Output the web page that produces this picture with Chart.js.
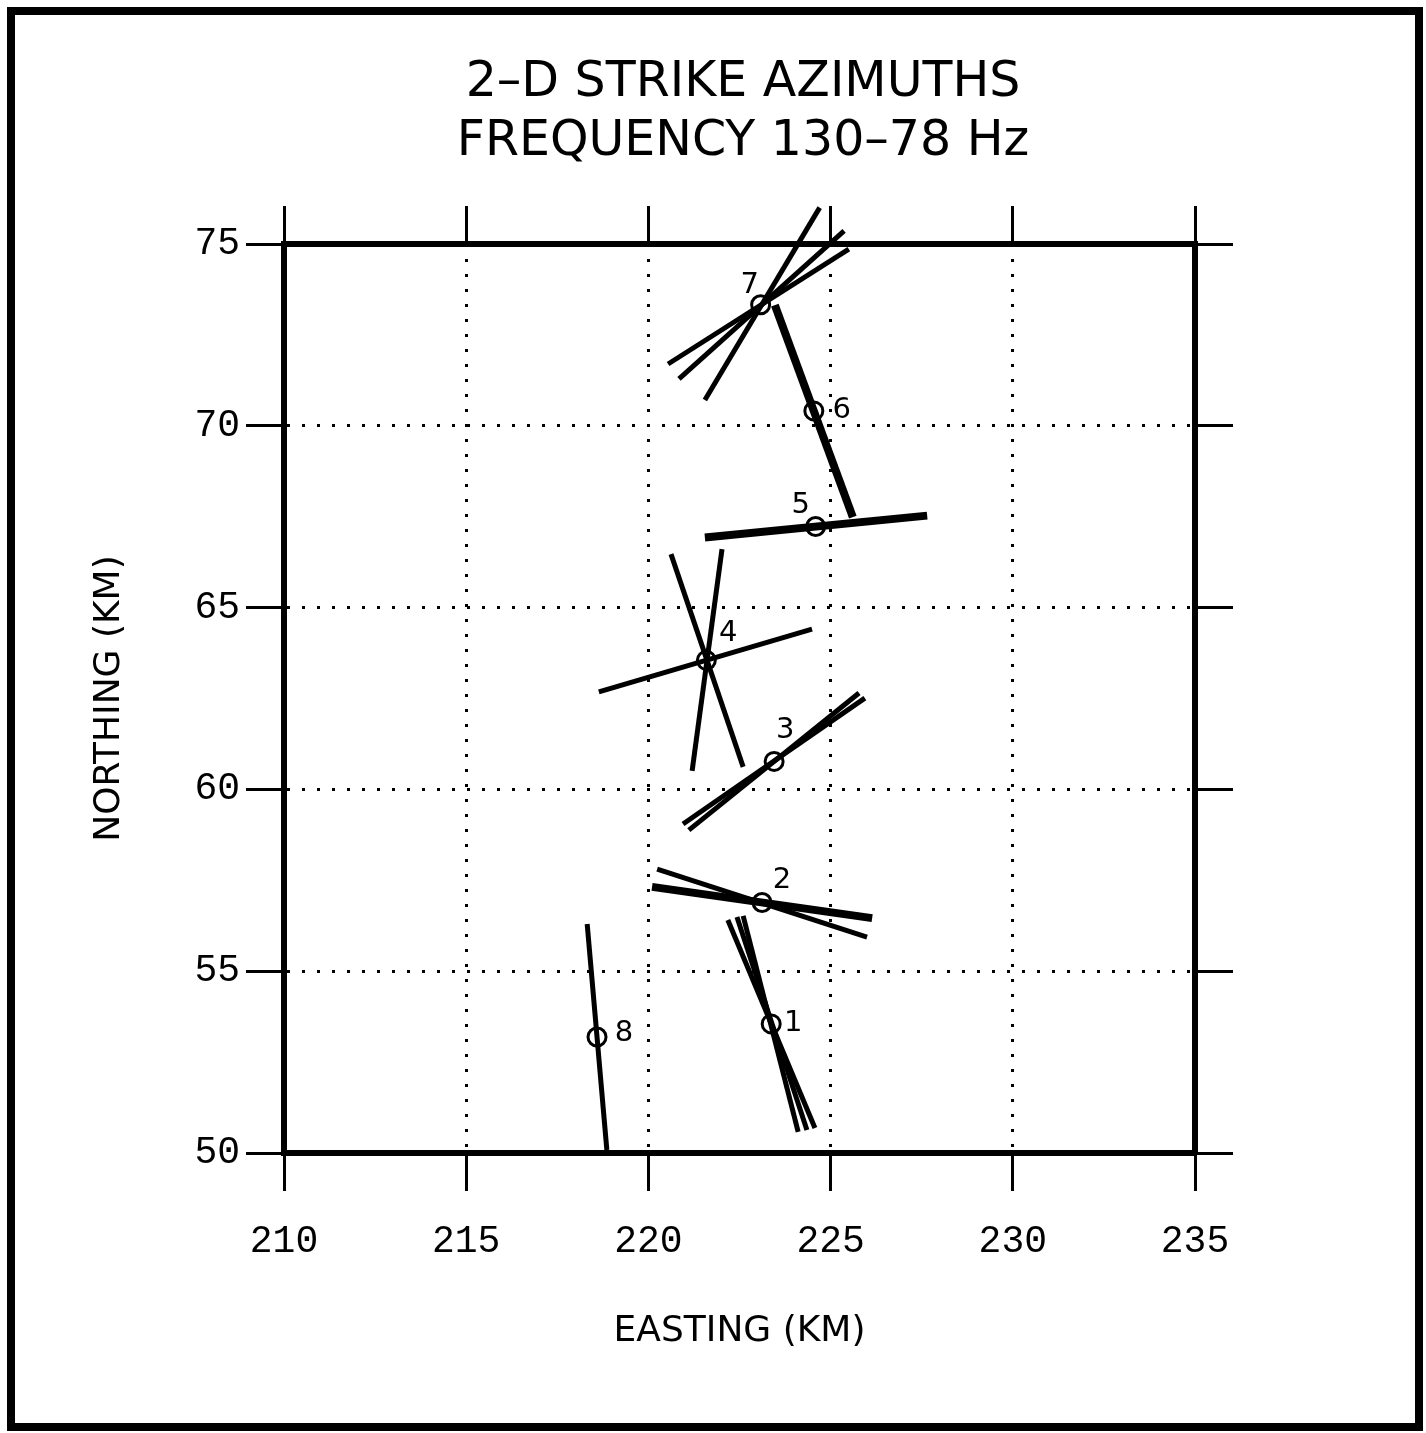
<!DOCTYPE html>
<html>
<head>
<meta charset="utf-8">
<title>2-D Strike Azimuths</title>
<script src="https://cdn.jsdelivr.net/npm/chart.js@4.4.1/dist/chart.umd.min.js"></script>
<style>
  html, body { margin: 0; padding: 0; background: #fff; }
  #wrap { width: 1426px; height: 1433px; position: relative; }
</style>
</head>
<body>
<div id="wrap"><canvas id="strikeChart"></canvas></div>
<script>
// site locations (km)
const siteNo = [1, 2, 3, 4, 5, 6, 7, 8];
const siteE = [223.37, 223.12, 223.45, 221.59, 224.59, 224.54, 223.08, 218.59];
const siteN = [53.55, 56.89, 60.77, 63.55, 67.23, 70.41, 73.33, 53.19];

// strike segments [E1, N1, E2, N2] through each site
const strikeLines = [
  [222.18, 56.41, 224.57, 50.69], // 1
  [222.43, 56.49, 224.35, 50.63],
  [222.60, 56.52, 224.11, 50.58],
  [220.24, 57.81, 226.00, 55.94], // 2
  [225.78, 62.65, 221.11, 58.88], // 3
  [225.94, 62.51, 220.95, 59.05],
  [218.64, 62.68, 224.49, 64.41], // 4
  [220.62, 66.47, 222.60, 60.62],
  [222.02, 66.61, 221.20, 60.51],
  [224.70, 76.00, 221.55, 70.71], // 7
  [225.37, 75.36, 220.84, 71.29],
  [225.50, 74.86, 220.54, 71.70],
  [218.32, 56.30, 218.86, 50.08]  // 8
];
// heavy strike segments
const heavyLines = [
  [220.10, 57.32, 226.14, 56.46], // 2
  [221.55, 66.93, 227.65, 67.53], // 5
  [223.47, 73.32, 225.61, 67.49]  // 6
];

const xTicks = [210, 215, 220, 225, 230, 235];
const yTicks = [50, 55, 60, 65, 70, 75];

// label offsets (px) of the site numbers
const labelOffset = {
  1: [22, 0], 2: [20, -22], 3: [11, -31], 4: [22, -27],
  5: [-15, -21], 6: [28, 0], 7: [-11, -19], 8: [27, -4]
};

const W = 1426, H = 1433;
const AREA = { left: 284, top: 244, right: 1195, bottom: 1153 };
const PAD_LEFT = 60;
const TITLE_SIZE = 49, TITLE_PAD_TOP = 54, TITLE_PAD_BOTTOM = 10;
const TITLE_H = TITLE_PAD_TOP + TITLE_PAD_BOTTOM + 2 * TITLE_SIZE * 1.2;

const sansFont = "'DejaVu Sans', sans-serif";
const monoFont = "'Liberation Mono', monospace";

function segment(s, width) {
  return {
    data: [{ x: s[0], y: s[1] }, { x: s[2], y: s[3] }],
    showLine: true,
    borderColor: "#000",
    borderWidth: width,
    borderCapStyle: "butt",
    pointRadius: 0,
    pointHoverRadius: 0,
    clip: false,
  };
}

const datasets = [
  {
    label: "sites",
    data: siteE.map((e, i) => ({ x: e, y: siteN[i] })),
    pointRadius: 9,
    pointHoverRadius: 9,
    pointBorderWidth: 3,
    pointBorderColor: "#000",
    pointBackgroundColor: "rgba(0,0,0,0)",
    showLine: false,
    clip: false,
  },
];
heavyLines.forEach((s) => datasets.push(segment(s, 8)));
strikeLines.forEach((s) => datasets.push(segment(s, 5)));

// white page, outer frame and site numbers
const paperPlugin = {
  id: "paper",
  beforeDraw(chart) {
    const c = chart.ctx;
    c.save();
    c.fillStyle = "#fff";
    c.fillRect(0, 0, chart.width, chart.height);
    c.restore();
  },
  afterDatasetsDraw(chart) {
    const c = chart.ctx;
    const pts = chart.getDatasetMeta(0).data;
    c.save();
    c.fillStyle = "#000";
    c.font = "29px " + sansFont;
    c.textAlign = "center";
    c.textBaseline = "middle";
    pts.forEach((p, i) => {
      const off = labelOffset[siteNo[i]];
      c.fillText(String(siteNo[i]), p.x + off[0], p.y + off[1]);
    });
    c.restore();
  },
  afterDraw(chart) {
    const c = chart.ctx;
    c.save();
    c.strokeStyle = "#000";
    c.lineWidth = 8;
    c.strokeRect(11, 11, 1408, 1416);
    c.restore();
  },
};

const gridOpts = (onArea) => ({
  color: "#000",
  lineWidth: 3,
  drawOnChartArea: onArea,
  drawTicks: true,
  tickLength: 38,
  tickWidth: 3,
  tickColor: "#000",
});
const borderOpts = { display: true, color: "#000", width: 6, dash: [3, 12] };

const ctx = document.getElementById("strikeChart").getContext("2d");
const chart = new Chart(ctx, {
  type: "scatter",
  data: { datasets: datasets },
  options: {
    responsive: true,
    maintainAspectRatio: false,
    animation: false,
    events: [],
    layout: { padding: { left: PAD_LEFT, right: 0, top: 0, bottom: 0 } },
    plugins: {
      legend: { display: false },
      tooltip: { enabled: false },
      title: {
        display: true,
        text: ["2\u2013D STRIKE AZIMUTHS", "FREQUENCY 130\u201378 Hz"],
        color: "#000",
        font: { family: sansFont, size: TITLE_SIZE, weight: "normal", lineHeight: 1.2 },
        padding: { top: TITLE_PAD_TOP, bottom: TITLE_PAD_BOTTOM },
      },
    },
    scales: {
      x: {
        type: "linear",
        position: "bottom",
        min: xTicks[0],
        max: xTicks[xTicks.length - 1],
        afterBuildTicks: (s) => { s.ticks = xTicks.map((v) => ({ value: v })); },
        ticks: {
          color: "#000",
          font: { family: monoFont, size: 38 },
          padding: 28,
          maxRotation: 0,
          autoSkip: false,
        },
        grid: gridOpts(true),
        border: borderOpts,
        title: {
          display: true,
          text: "EASTING (KM)",
          color: "#000",
          font: { family: sansFont, size: 36, lineHeight: 1.2 },
          padding: { bottom: 80 },
        },
        afterFit: (s) => { s.height = H - AREA.bottom; },
      },
      x2: {
        type: "linear",
        position: "top",
        min: xTicks[0],
        max: xTicks[xTicks.length - 1],
        afterBuildTicks: (s) => { s.ticks = xTicks.map((v) => ({ value: v })); },
        ticks: { display: false },
        grid: gridOpts(false),
        border: borderOpts,
        afterFit: (s) => { s.height = AREA.top - TITLE_H; },
      },
      y: {
        type: "linear",
        position: "left",
        min: yTicks[0],
        max: yTicks[yTicks.length - 1],
        afterBuildTicks: (s) => { s.ticks = yTicks.map((v) => ({ value: v })); },
        ticks: {
          color: "#000",
          font: { family: monoFont, size: 38 },
          padding: 6,
          autoSkip: false,
        },
        grid: gridOpts(true),
        border: borderOpts,
        title: {
          display: true,
          text: "NORTHING (KM)",
          color: "#000",
          font: { family: sansFont, size: 36, lineHeight: 1.2 },
          padding: { top: 28.4 },
        },
        afterFit: (s) => { s.width = AREA.left - PAD_LEFT; },
      },
      y2: {
        type: "linear",
        position: "right",
        min: yTicks[0],
        max: yTicks[yTicks.length - 1],
        afterBuildTicks: (s) => { s.ticks = yTicks.map((v) => ({ value: v })); },
        ticks: { display: false },
        grid: gridOpts(false),
        border: borderOpts,
        afterFit: (s) => { s.width = W - AREA.right; },
      },
    },
  },
  plugins: [paperPlugin],
});
</script>
</body>
</html>
